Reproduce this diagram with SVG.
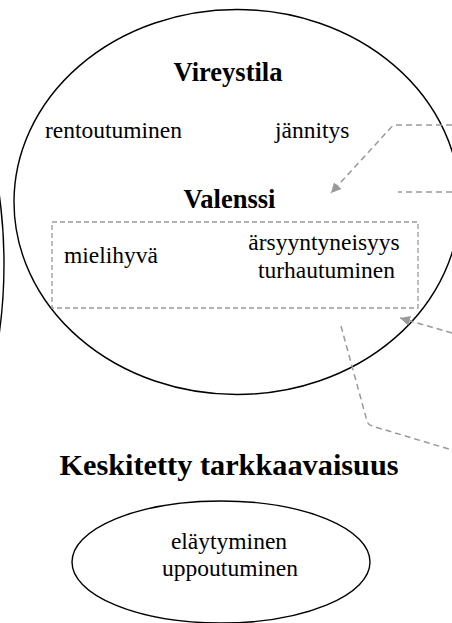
<svg xmlns="http://www.w3.org/2000/svg" width="452" height="623" viewBox="0 0 452 623">
<defs>
<style>
.shape{fill:none;stroke:#000;stroke-width:1.4}
.t{font-family:"Liberation Serif","Times New Roman",serif;font-size:23.5px;fill:#000}
.b{font-family:"Liberation Serif","Times New Roman",serif;font-size:26.5px;font-weight:bold;fill:#000}
.conn{fill:none;stroke:#9a9a9a;stroke-width:1.5;stroke-dasharray:6 4}
.box{fill:none;stroke:#9a9a9a;stroke-width:1.3;stroke-dasharray:5 3}
</style>
<marker id="ah" viewBox="0 0 10 10" refX="10" refY="5" markerWidth="10" markerHeight="10" markerUnits="userSpaceOnUse" orient="auto">
<path d="M0,0 L10,5 L0,10 z" fill="#9a9a9a"/>
</marker>
</defs>
<rect width="452" height="623" fill="#fff"/>
<g id="left-ellipse"><ellipse class="shape" cx="-117" cy="264" rx="121" ry="250"/></g>
<g id="vireystila">
<ellipse class="shape" cx="237" cy="202" rx="223" ry="192.5"/>
<text class="b" x="228" y="81" text-anchor="middle">Vireystila</text>
<text class="t" x="45" y="138">rentoutuminen</text>
<text class="t" x="275" y="138">jännitys</text>
<text class="b" x="229.5" y="208" text-anchor="middle">Valenssi</text>
</g>
<g id="valenssi-box">
<rect class="box" x="52" y="222" width="366" height="86"/>
<text class="t" x="64" y="263">mielihyvä</text>
<text class="t" x="324" y="250" text-anchor="middle">ärsyyntyneisyys</text>
<text class="t" x="326.5" y="278" text-anchor="middle">turhautuminen</text>
</g>
<g id="keskitetty">
<text class="b" x="229" y="475" text-anchor="middle" style="font-size:30.3px">Keskitetty tarkkaavaisuus</text>
<ellipse class="shape" cx="221" cy="562" rx="149" ry="61"/>
<text class="t" x="229" y="549" text-anchor="middle">eläytyminen</text>
<text class="t" x="230" y="576" text-anchor="middle">uppoutuminen</text>
</g>
<g id="connectors">
<path class="conn" d="M452,125 L396,125 Q393,125 391,127.5 L331,193" marker-end="url(#ah)"/>
<path class="conn" d="M452,192 L398,192"/>
<path class="conn" d="M452,333 L400,318" marker-end="url(#ah)"/>
<path class="conn" d="M341,326 L367,421 Q368,425 372,426 L452,450"/>
</g>
</svg>
